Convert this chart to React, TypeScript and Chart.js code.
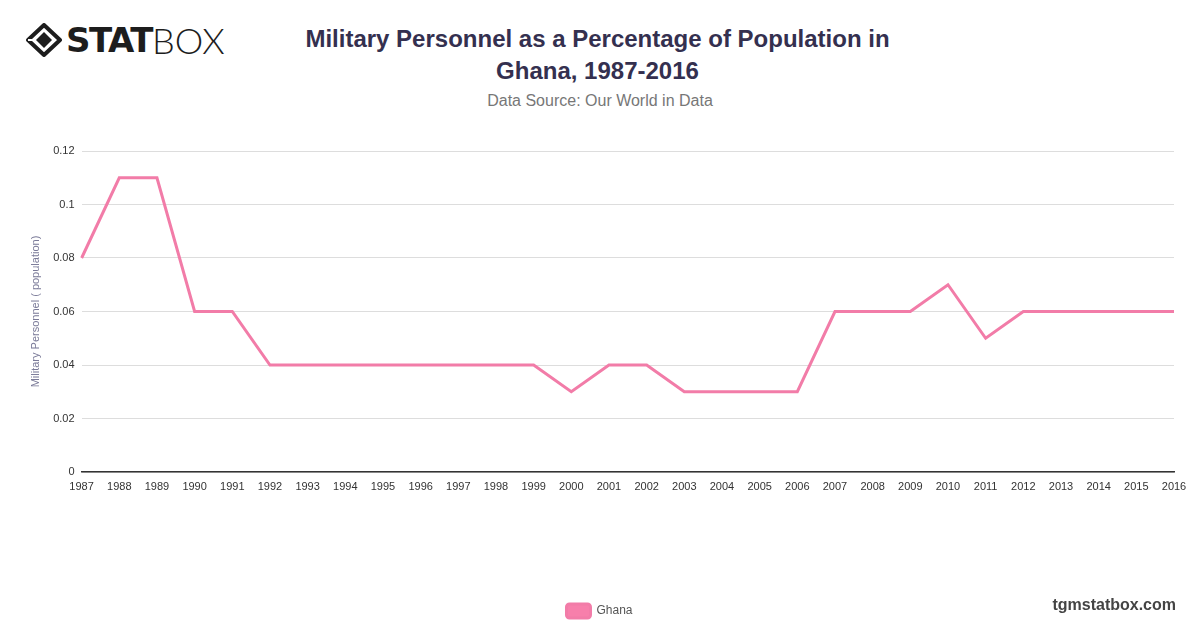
import { Chart, registerables } from "chart.js"
import React, { useEffect, useRef } from "react"

Chart.register(...registerables)

const years = [
  "1987", "1988", "1989", "1990", "1991", "1992", "1993", "1994", "1995", "1996",
  "1997", "1998", "1999", "2000", "2001", "2002", "2003", "2004", "2005", "2006",
  "2007", "2008", "2009", "2010", "2011", "2012", "2013", "2014", "2015", "2016",
]
const ghana = [
  0.08, 0.11, 0.11, 0.06, 0.06, 0.04, 0.04, 0.04, 0.04, 0.04,
  0.04, 0.04, 0.04, 0.03, 0.04, 0.04, 0.03, 0.03, 0.03, 0.03,
  0.06, 0.06, 0.06, 0.07, 0.05, 0.06, 0.06, 0.06, 0.06, 0.06,
]
const yTicks = [0, 0.02, 0.04, 0.06, 0.08, 0.1, 0.12]

const FONT = "'Liberation Sans', Arial, Helvetica, sans-serif"

const Logo: React.FC = () => (
  <div style={{ position: "absolute", left: 26, top: 22, display: "flex", alignItems: "center" }}>
    <svg width="36" height="34" viewBox="0 0 36 34">
      <polygon points="18,2 34,17 18,32 2,17" fill="none" stroke="#1d1d1d" strokeWidth="4" strokeLinejoin="round" />
      <polygon points="18,9 26,17 18,25 10,17" fill="#1d1d1d" />
      <line x1="2" y1="17" x2="10" y2="17" stroke="#fff" strokeWidth="2" />
    </svg>
    <span
      style={{
        fontFamily: "'DejaVu Sans', sans-serif",
        fontWeight: 900,
        fontSize: 34,
        letterSpacing: -1.5,
        color: "#1d1d1d",
        marginLeft: 4,
        lineHeight: 1,
      }}
    >
      STAT
    </span>
    <span
      style={{
        fontFamily: "Lato, 'Open Sans', sans-serif",
        fontWeight: 300,
        fontSize: 36,
        color: "#1d1d1d",
        lineHeight: 1,
      }}
    >
      BOX
    </span>
  </div>
)

const App: React.FC = () => {
  const chartRef = useRef<HTMLCanvasElement>(null)
  const chartInstanceRef = useRef<Chart | null>(null)

  useEffect(() => {
    const ctx = chartRef.current?.getContext("2d")

    if (ctx) {
      chartInstanceRef.current = new Chart(ctx, {
        type: "line",
        data: {
          labels: years,
          datasets: [
            {
              label: "Ghana",
              data: ghana,
              borderColor: "#f27ca8",
              backgroundColor: "#f77fab",
              borderWidth: 3,
              pointRadius: 0,
              tension: 0,
            },
          ],
        },
        options: {
          animation: false,
          responsive: false,
          maintainAspectRatio: false,
          layout: { padding: { top: 21, right: 26, left: 25, bottom: 0 } },
          plugins: {
            title: { display: false },
            tooltip: { enabled: false },
            legend: {
              position: "bottom",
              labels: {
                boxWidth: 24,
                boxHeight: 14,
                useBorderRadius: true,
                borderRadius: 3,
                color: "#555",
                font: { family: FONT, size: 12 },
              },
            },
          },
          scales: {
            x: {
              grid: { display: false, drawTicks: false },
              border: { display: true, color: "#333", width: 1.5 },
              ticks: {
                color: "#333",
                font: { family: FONT, size: 11 },
                maxRotation: 0,
                autoSkip: false,
                padding: 8,
              },
              afterFit: (scale) => {
                scale.height = 122
              },
            },
            y: {
              min: 0,
              max: 0.12,
              afterBuildTicks: (scale) => {
                scale.ticks = yTicks.map((v) => ({ value: v }))
              },
              grid: { color: "#dddddd", drawTicks: false },
              border: { display: false },
              ticks: {
                color: "#333",
                font: { family: FONT, size: 11 },
                padding: 7,
                callback: (v) => String(Number(v)),
              },
              title: {
                display: true,
                text: "Military Personnel ( population)",
                color: "#7a7a98",
                font: { family: FONT, size: 11 },
              },
            },
          },
        },
      })
    }

    return () => {
      chartInstanceRef.current?.destroy()
    }
  }, [])

  return (
    <div
      style={{
        position: "fixed",
        left: 0,
        top: 0,
        width: 1200,
        height: 628,
        background: "#fff",
        fontFamily: FONT,
      }}
    >
      <Logo />
      <div
        style={{
          position: "absolute",
          left: 0,
          width: 1195,
          top: 23,
          textAlign: "center",
          fontWeight: 700,
          fontSize: 24,
          lineHeight: "32px",
          color: "#34304f",
        }}
      >
        Military Personnel as a Percentage of Population in
        <br />
        Ghana, 1987-2016
      </div>
      <div
        style={{
          position: "absolute",
          left: 0,
          width: 1200,
          top: 92,
          textAlign: "center",
          fontSize: 16,
          color: "#777",
        }}
      >
        Data Source: Our World in Data
      </div>
      <canvas
        ref={chartRef}
        width={1200}
        height={498}
        style={{ position: "absolute", left: 0, top: 130, width: 1200, height: 498 }}
      />
      <div
        style={{
          position: "absolute",
          right: 24,
          top: 596,
          fontSize: 16,
          fontWeight: 700,
          color: "#444",
        }}
      >
        tgmstatbox.com
      </div>
    </div>
  )
}

export default App
